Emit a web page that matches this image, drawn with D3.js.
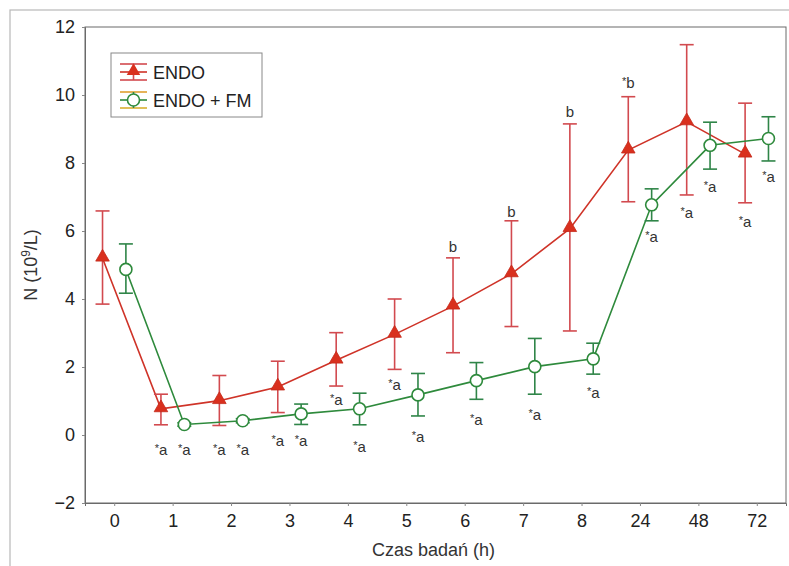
<!DOCTYPE html>
<html><head><meta charset="utf-8">
<script src="https://cdnjs.cloudflare.com/ajax/libs/d3/7.8.5/d3.min.js"></script>
<style>body{margin:0;background:#fff;}svg{display:block;font-family:Arial,"Liberation Sans",sans-serif;}</style>
</head><body>
<svg id="c" width="789" height="566"></svg>
<script>
const categories = ["0","1","2","3","4","5","6","7","8","24","48","72"];
const yTicks = [-2,0,2,4,6,8,10,12];
const endoMean  = [5.2, 0.77, 1.01, 1.41, 2.2, 2.96, 3.79, 4.74, 6.07, 8.38, 9.21, 8.26];
const endoUpper = [6.59, 1.2, 1.75, 2.17, 3.01, 4.0, 5.21, 6.3, 9.15, 9.95, 11.48, 9.76];
const endoLower = [3.85, 0.3, 0.28, 0.66, 1.44, 1.93, 2.42, 3.19, 3.06, 6.86, 7.06, 6.83];
const fmMean  = [4.87, 0.31, 0.42, 0.62, 0.77, 1.18, 1.6, 2.01, 2.24, 6.77, 8.52, 8.72];
const fmUpper = [5.62, 0.36, 0.48, 0.91, 1.23, 1.81, 2.13, 2.84, 2.7, 7.24, 9.2, 9.36];
const fmLower = [4.17, 0.26, 0.36, 0.31, 0.3, 0.56, 1.05, 1.2, 1.79, 6.3, 7.82, 8.06];
const endoLabels = ["", "*a","*a","*a","*a","*a","b","b","b","*b","*a","*a"];
const endoLabelAt = [null,-0.44,-0.44,-0.18,1.03,1.47,5.53,6.56,9.5,10.35,6.53,6.26];
const fmLabels = ["", "*a","*a","*a","*a","*a","*a","*a","*a","*a","*a","*a"];
const fmLabelAt = [null,-0.44,-0.44,-0.18,-0.35,-0.06,0.44,0.59,1.24,5.82,7.29,7.59];
const seriesNames = ["ENDO","ENDO + FM"];

const svg = d3.select("#c");
const L=85,R=786,T=27,B=503;
const x = d3.scalePoint().domain(categories).range([L,R]).padding(0.5);
const y = d3.scaleLinear().domain([-2,12]).range([B,T]);
const off = x.step()*0.2;

// outer scan frame
svg.append("rect").attr("x",10).attr("y",10).attr("width",790).attr("height",570)
  .attr("fill","none").attr("stroke","#b8b8b8").attr("stroke-width",1.2);

// plot frame
svg.append("rect").attr("x",L).attr("y",T).attr("width",R-L).attr("height",B-T)
  .attr("fill","none").attr("stroke","#6a6a6a").attr("stroke-width",1);

const ya = svg.append("g").attr("transform",`translate(${L},0)`)
  .call(d3.axisLeft(y).tickValues(yTicks).tickSize(3).tickPadding(7).tickFormat(d=>d<0?"\u2212"+Math.abs(d):d));
const xa = svg.append("g").attr("transform",`translate(0,${B})`)
  .call(d3.axisBottom(x).tickSize(3).tickPadding(8));
[ya,xa].forEach(g=>{
  g.select(".domain").attr("stroke","#6a6a6a");
  g.selectAll(".tick line").attr("stroke","#888");
  g.selectAll("text").attr("font-size",18).attr("fill","#222").attr("font-family","Arial,'Liberation Sans',sans-serif");
});

svg.append("text").attr("x",(L+R)/2-2).attr("y",556).attr("text-anchor","middle")
  .attr("font-size",18).attr("fill","#333").text("Czas badań (h)");
const yl = svg.append("text").attr("transform","translate(37,265) rotate(-90)")
  .attr("text-anchor","middle").attr("font-size",18).attr("fill","#333");
yl.append("tspan").text("N (10");
yl.append("tspan").attr("dy",-7).attr("font-size",12).text("9");
yl.append("tspan").attr("dy",7).text("/L)");

function series(mean, up, lo, dx, color, ebColor, marker){
  const g = svg.append("g");
  const pts = categories.map((c,i)=>({x:x(c)+dx, m:mean[i], u:up[i], l:lo[i]}));
  g.append("path").datum(pts).attr("fill","none").attr("stroke",color).attr("stroke-width",1.6)
    .attr("d", d3.line().x(d=>d.x).y(d=>y(d.m)));
  const eb = g.selectAll("g.eb").data(pts).join("g").attr("stroke",ebColor).attr("stroke-width",1.6);
  eb.append("line").attr("x1",d=>d.x).attr("x2",d=>d.x).attr("y1",d=>y(d.u)).attr("y2",d=>y(d.l));
  eb.append("line").attr("x1",d=>d.x-7).attr("x2",d=>d.x+7).attr("y1",d=>y(d.u)).attr("y2",d=>y(d.u));
  eb.append("line").attr("x1",d=>d.x-7).attr("x2",d=>d.x+7).attr("y1",d=>y(d.l)).attr("y2",d=>y(d.l));
  if(marker==="tri"){
    g.selectAll("path.m").data(pts).join("path")
      .attr("d", d3.symbol(d3.symbolTriangle, 80)).attr("transform",d=>`translate(${d.x},${y(d.m)-1})`)
      .attr("fill","#d9301e").attr("stroke","#c42a1a").attr("stroke-width",0.8);
  } else {
    g.selectAll("circle").data(pts).join("circle").attr("cx",d=>d.x).attr("cy",d=>y(d.m)).attr("r",6)
      .attr("fill","#fff").attr("stroke",color).attr("stroke-width",1.6);
  }
}
series(endoMean, endoUpper, endoLower, -off, "#cf3328", "#d24a4f", "tri");
series(fmMean, fmUpper, fmLower, off, "#2e8a3c", "#2f8548", "circ");

function labels(labs, at, dx){
  categories.forEach((c,i)=>{
    if(!labs[i]) return;
    const t = svg.append("text").attr("x",x(c)+dx).attr("y",y(at[i])+5)
      .attr("text-anchor","middle").attr("font-size",15).attr("fill","#333");
    if(labs[i].startsWith("*")){
      t.append("tspan").attr("font-size",11).attr("dy",-3).text("*");
      t.append("tspan").attr("dy",3).text(labs[i].slice(1));
    } else t.text(labs[i]);
  });
}
labels(endoLabels, endoLabelAt, -off);
labels(fmLabels, fmLabelAt, off);

// legend
const lg = svg.append("g");
lg.append("rect").attr("x",111).attr("y",53).attr("width",151).attr("height",64)
  .attr("fill","#fff").attr("stroke","#888").attr("stroke-width",1);
const ly = [72,100];
// ENDO entry
lg.append("line").attr("x1",120).attr("x2",147).attr("y1",ly[0]).attr("y2",ly[0]).attr("stroke","#cf3328").attr("stroke-width",1.6);
lg.append("line").attr("x1",120).attr("x2",147).attr("y1",ly[0]-8).attr("y2",ly[0]-8).attr("stroke","#d24a4f").attr("stroke-width",1.6);
lg.append("line").attr("x1",120).attr("x2",147).attr("y1",ly[0]+8).attr("y2",ly[0]+8).attr("stroke","#d24a4f").attr("stroke-width",1.6);
lg.append("line").attr("x1",133.5).attr("x2",133.5).attr("y1",ly[0]-8).attr("y2",ly[0]+8).attr("stroke","#d24a4f").attr("stroke-width",1.6);
lg.append("path").attr("d",d3.symbol(d3.symbolTriangle,80)).attr("transform",`translate(133.5,${ly[0]-1})`).attr("fill","#d9301e");
// FM entry
lg.append("line").attr("x1",120).attr("x2",147).attr("y1",ly[1]-8).attr("y2",ly[1]-8).attr("stroke","#e0a030").attr("stroke-width",1.6);
lg.append("line").attr("x1",120).attr("x2",147).attr("y1",ly[1]+8).attr("y2",ly[1]+8).attr("stroke","#d9b030").attr("stroke-width",1.6);
lg.append("line").attr("x1",120).attr("x2",147).attr("y1",ly[1]).attr("y2",ly[1]).attr("stroke","#2e8a3c").attr("stroke-width",1.6);
lg.append("line").attr("x1",133.5).attr("x2",133.5).attr("y1",ly[1]-8).attr("y2",ly[1]+8).attr("stroke","#2f8548").attr("stroke-width",1.6);
lg.append("circle").attr("cx",133.5).attr("cy",ly[1]).attr("r",6).attr("fill","#fff").attr("stroke","#2e8a3c").attr("stroke-width",1.6);
seriesNames.forEach((n,i)=>lg.append("text").attr("x",153).attr("y",ly[i]+6.5).attr("font-size",18).attr("fill","#222").text(n));
</script>
</body></html>
